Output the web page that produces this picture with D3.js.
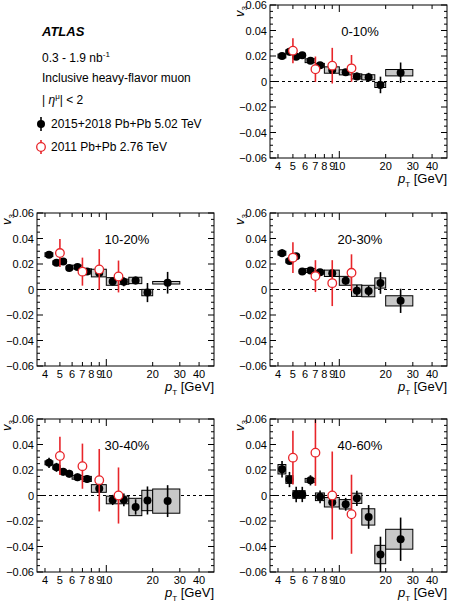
<!DOCTYPE html>
<html>
<head>
<meta charset="utf-8">
<script src="https://cdn.jsdelivr.net/npm/d3@7"></script>
<style>
body { margin: 0; background: #fff; }
text { font-family: "Liberation Sans", Arial, sans-serif; fill: #000; }
</style>
</head>
<body>
<svg id="canvas" width="450" height="607"></svg>
<script>
// pT bins (GeV)
let binLo = [4, 4.5, 5, 5.5, 6, 7, 8, 10, 12, 14, 17, 20]
let binHi = [4.5, 5, 5.5, 6, 7, 8, 10, 12, 14, 17, 20, 30]
let binCenter = [4.25, 4.75, 5.25, 5.75, 6.5, 7.5, 9, 11, 13, 15.5, 18.5, 25]
let redPt = [5, 7, 9, 12]

let xTicks = [4, 5, 6, 7, 8, 9, 10, 20, 30, 40]
let yTicks = [-0.06, -0.04, -0.02, 0, 0.02, 0.04, 0.06]

// 2015+2018 Pb+Pb 5.02 TeV : v3, stat, sys
let v3_0_10 = [0.020, 0.0234, 0.0195, 0.0205, 0.0163, 0.0127, 0.009, 0.0072, 0.004, 0.0033, -0.0027, 0.0069]
let stat_0_10 = [0.0012, 0.003, 0.0015, 0.0012, 0.0012, 0.0015, 0.002, 0.002, 0.003, 0.0035, 0.0065, 0.008]
let sys_0_10 = [0.0015, 0.0015, 0.0015, 0.0015, 0.0015, 0.0015, 0.0025, 0.002, 0.002, 0.002, 0.002, 0.0025]

let v3_10_20 = [0.0273, 0.021, 0.022, 0.0168, 0.0176, 0.0142, 0.0129, 0.0063, 0.0061, 0.0071, -0.0024, 0.0053]
let stat_10_20 = [0.0015, 0.002, 0.002, 0.0015, 0.0015, 0.002, 0.002, 0.003, 0.0035, 0.003, 0.0075, 0.0085]
let sys_10_20 = [0.0015, 0.0015, 0.0015, 0.0015, 0.0015, 0.002, 0.003, 0.003, 0.002, 0.0025, 0.0025, 0.001]

let v3_20_30 = [0.0285, 0.0224, 0.0261, 0.0141, 0.0149, 0.0136, 0.0127, 0.0068, -0.0009, -0.0012, 0.0051, -0.0089]
let stat_20_30 = [0.003, 0.002, 0.002, 0.002, 0.0015, 0.002, 0.003, 0.003, 0.0045, 0.004, 0.0085, 0.0095]
let sys_20_30 = [0.0015, 0.0015, 0.0015, 0.0015, 0.0015, 0.0015, 0.0025, 0.0035, 0.0045, 0.0045, 0.004, 0.004]

let v3_30_40 = [0.0256, 0.0221, 0.0186, 0.0171, 0.0143, 0.013, 0.0055, -0.0035, -0.0035, -0.009, -0.0039, -0.0044]
let stat_30_40 = [0.004, 0.0035, 0.003, 0.003, 0.003, 0.003, 0.003, 0.004, 0.005, 0.006, 0.011, 0.0125]
let sys_30_40 = [0.0015, 0.0015, 0.0015, 0.0015, 0.0015, 0.002, 0.003, 0.003, 0.003, 0.0068, 0.008, 0.0095]

let v3_40_60 = [0.0206, 0.0125, 0.0008, 0.0008, 0.0119, -0.001, -0.0053, -0.0069, -0.0022, -0.0168, -0.0463, -0.0343]
let stat_40_60 = [0.0065, 0.006, 0.006, 0.006, 0.004, 0.005, 0.005, 0.005, 0.006, 0.0093, 0.014, 0.017]
let sys_40_60 = [0.0037, 0.003, 0.003, 0.003, 0.0015, 0.003, 0.0037, 0.0037, 0.004, 0.0064, 0.0072, 0.0078]

// 2011 Pb+Pb 2.76 TeV : v3, total err
let red_0_10 = [0.0242, 0.0096, 0.0124, 0.0103]
let redErr_0_10 = [0.0098, 0.010, 0.014, 0.0105]
let red_10_20 = [0.0286, 0.014, 0.0157, 0.0102]
let redErr_10_20 = [0.011, 0.011, 0.016, 0.0125]
let red_20_30 = [0.025, 0.0105, 0.005, 0.0131]
let redErr_20_30 = [0.012, 0.0125, 0.018, 0.0145]
let red_30_40 = [0.031, 0.023, 0.012, 0.0]
let redErr_30_40 = [0.015, 0.0177, 0.0245, 0.022]
let red_40_60 = [0.0297, 0.0336, 0.0, -0.0147]
let redErr_40_60 = [0.021, 0.026, 0.0345, 0.031]

let panels = [
    {label: '0-10%', left: 270, top: 5, v: v3_0_10, stat: stat_0_10, sys: sys_0_10, red: red_0_10, redErr: redErr_0_10},
    {label: '10-20%', left: 37, top: 213, v: v3_10_20, stat: stat_10_20, sys: sys_10_20, red: red_10_20, redErr: redErr_10_20},
    {label: '20-30%', left: 270, top: 213, v: v3_20_30, stat: stat_20_30, sys: sys_20_30, red: red_20_30, redErr: redErr_20_30},
    {label: '30-40%', left: 37, top: 419, v: v3_30_40, stat: stat_30_40, sys: sys_30_40, red: red_30_40, redErr: redErr_30_40},
    {label: '40-60%', left: 270, top: 419, v: v3_40_60, stat: stat_40_60, sys: sys_40_60, red: red_40_60, redErr: redErr_40_60}
]

let W = 177
let H = 153
let RED = '#e8252a'

let canvas = d3.select('#canvas')

let fmtY = (d) => {
    if (d === 0) return '0'
    let s = Math.abs(d).toFixed(2)
    return (d < 0 ? '\u22120' : '0') + s.slice(1)
}

let drawPanel = (p, idx) => {
    let x = d3.scaleLog().domain([3.55, 50]).range([0, W])
    let y = d3.scaleLinear().domain([-0.06, 0.06]).range([H, 0])

    let g = canvas.append('g').attr('transform', 'translate(' + p.left + ',' + p.top + ')')

    g.append('clipPath').attr('id', 'clip' + idx)
        .append('rect').attr('width', W).attr('height', H)

    let plot = g.append('g').attr('clip-path', 'url(#clip' + idx + ')')

    // zero line
    plot.append('line')
        .attr('x1', 0).attr('x2', W)
        .attr('y1', y(0)).attr('y2', y(0))
        .attr('stroke', '#000').attr('stroke-width', 1)
        .attr('stroke-dasharray', '3,3')

    let idxs = d3.range(binCenter.length)

    // systematic boxes
    plot.selectAll('rect.sys').data(idxs).enter().append('rect')
        .attr('class', 'sys')
        .attr('x', (i) => x(binLo[i]))
        .attr('width', (i) => x(binHi[i]) - x(binLo[i]))
        .attr('y', (i) => y(p.v[i] + p.sys[i]))
        .attr('height', (i) => y(p.v[i] - p.sys[i]) - y(p.v[i] + p.sys[i]))
        .attr('fill', '#c8c8c8')
        .attr('stroke', '#000')
        .attr('stroke-width', 1)

    // stat error bars
    plot.selectAll('line.stat').data(idxs).enter().append('line')
        .attr('x1', (i) => x(binCenter[i])).attr('x2', (i) => x(binCenter[i]))
        .attr('y1', (i) => y(p.v[i] - p.stat[i]))
        .attr('y2', (i) => y(p.v[i] + p.stat[i]))
        .attr('stroke', '#000').attr('stroke-width', 1.6)

    plot.selectAll('circle.blk').data(idxs).enter().append('circle')
        .attr('cx', (i) => x(binCenter[i]))
        .attr('cy', (i) => y(p.v[i]))
        .attr('r', 4)
        .attr('fill', '#000')

    // 2.76 TeV points
    let ridx = d3.range(redPt.length)
    plot.selectAll('line.red').data(ridx).enter().append('line')
        .attr('x1', (i) => x(redPt[i])).attr('x2', (i) => x(redPt[i]))
        .attr('y1', (i) => y(p.red[i] - p.redErr[i]))
        .attr('y2', (i) => y(p.red[i] + p.redErr[i]))
        .attr('stroke', RED).attr('stroke-width', 1.6)

    plot.selectAll('circle.red').data(ridx).enter().append('circle')
        .attr('cx', (i) => x(redPt[i]))
        .attr('cy', (i) => y(p.red[i]))
        .attr('r', 4.3)
        .attr('fill', '#fff')
        .attr('stroke', RED).attr('stroke-width', 1.3)

    // frame
    g.append('rect').attr('width', W).attr('height', H)
        .attr('fill', 'none').attr('stroke', '#000').attr('stroke-width', 1)

    // y ticks (left and right)
    let yMinor = d3.range(-0.06, 0.0601, 0.005)
    yMinor.forEach((v) => {
        let major = Math.abs(Math.round(v * 1000) % 20) === 0
        let len = major ? 6 : 3
        g.append('line').attr('x1', 0).attr('x2', len).attr('y1', y(v)).attr('y2', y(v))
            .attr('stroke', '#000')
        g.append('line').attr('x1', W).attr('x2', W - len).attr('y1', y(v)).attr('y2', y(v))
            .attr('stroke', '#000')
    })
    g.selectAll('text.ylab').data(yTicks).enter().append('text')
        .attr('x', -3)
        .attr('y', (d) => y(d) + 4)
        .attr('text-anchor', 'end')
        .attr('font-size', 11)
        .text(fmtY)

    // x ticks (bottom and top)
    xTicks.forEach((t) => {
        let len = t === 10 ? 7 : 4
        g.append('line').attr('x1', x(t)).attr('x2', x(t)).attr('y1', H).attr('y2', H - len)
            .attr('stroke', '#000')
        g.append('line').attr('x1', x(t)).attr('x2', x(t)).attr('y1', 0).attr('y2', len)
            .attr('stroke', '#000')
    })
    g.selectAll('text.xlab').data(xTicks).enter().append('text')
        .attr('x', (d) => x(d))
        .attr('y', H + 12)
        .attr('text-anchor', 'middle')
        .attr('font-size', 11)
        .text((d) => d)

    // axis titles
    let yt = g.append('text')
        .attr('transform', 'translate(-26,1) rotate(-90)')
        .attr('text-anchor', 'end')
        .attr('font-size', 13)
    yt.append('tspan').attr('font-style', 'italic').text('v')
    yt.append('tspan').attr('font-size', 8).attr('dy', 3).text('3')

    let xt = g.append('text')
        .attr('x', W).attr('y', H + 25)
        .attr('text-anchor', 'end')
        .attr('font-size', 13)
    xt.append('tspan').attr('font-style', 'italic').text('p')
    xt.append('tspan').attr('font-size', 8).attr('dy', 4).text('T')
    xt.append('tspan').attr('dy', -4).text(' [GeV]')

    // centrality label
    g.append('text')
        .attr('x', 90).attr('y', 31)
        .attr('text-anchor', 'middle')
        .attr('font-size', 13)
        .text(p.label)
}

panels.forEach(drawPanel)

// legend block
let lg = canvas.append('g')
lg.append('text').attr('x', 42).attr('y', 36)
    .attr('font-size', 13).attr('font-weight', 'bold').attr('font-style', 'italic')
    .text('ATLAS')
let lum = lg.append('text').attr('x', 42).attr('y', 62).attr('font-size', 12)
lum.append('tspan').text('0.3 - 1.9 nb')
lum.append('tspan').attr('font-size', 8).attr('dy', -5).text('-1')
lg.append('text').attr('x', 42).attr('y', 82).attr('font-size', 12)
    .text('Inclusive heavy-flavor muon')
let eta = lg.append('text').attr('x', 42).attr('y', 104).attr('font-size', 12)
eta.append('tspan').text('| ')
eta.append('tspan').attr('font-style', 'italic').text('\u03B7')
eta.append('tspan').attr('font-size', 8).attr('dy', -5).text('\u03BC')
eta.append('tspan').attr('dy', 5).text('| < 2')

lg.append('line').attr('x1', 41).attr('x2', 41).attr('y1', 117).attr('y2', 131)
    .attr('stroke', '#000').attr('stroke-width', 1.6)
lg.append('circle').attr('cx', 41).attr('cy', 124).attr('r', 4).attr('fill', '#000')
lg.append('text').attr('x', 51).attr('y', 128).attr('font-size', 12)
    .text('2015+2018 Pb+Pb 5.02 TeV')

lg.append('line').attr('x1', 41).attr('x2', 41).attr('y1', 140).attr('y2', 154)
    .attr('stroke', RED).attr('stroke-width', 1.6)
lg.append('circle').attr('cx', 41).attr('cy', 147).attr('r', 4.3)
    .attr('fill', '#fff').attr('stroke', RED).attr('stroke-width', 1.3)
lg.append('text').attr('x', 51).attr('y', 151).attr('font-size', 12)
    .text('2011 Pb+Pb 2.76 TeV')
</script>
</body>
</html>
